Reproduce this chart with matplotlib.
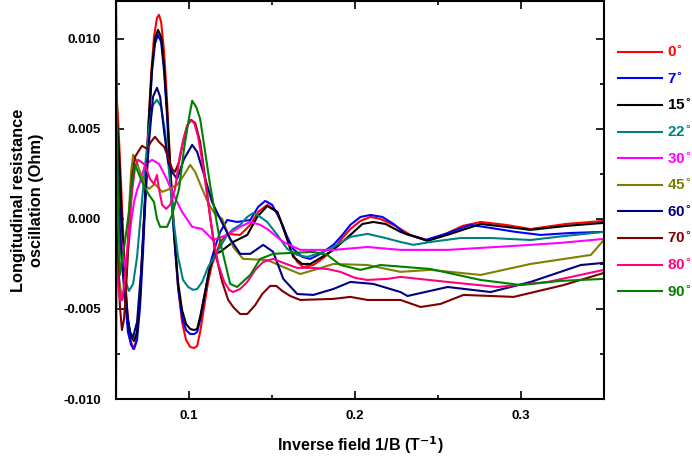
import matplotlib
matplotlib.use('Agg')
import matplotlib.pyplot as plt
import matplotlib.ticker as plticker
import numpy as np

plt.rcParams.update({'font.family': 'sans-serif',
                     'font.sans-serif': ['Liberation Sans', 'DejaVu Sans'],
                     'font.weight': 'bold',
                     'axes.linewidth': 1.5,
                     'xtick.labelsize': 9.5,
                     'ytick.labelsize': 9.5})

# -- data: inverse field (1/T) and oscillation (mOhm) per tilt angle
x_0 = [0.0560, 0.0572, 0.0590, 0.0608, 0.0626, 0.0644, 0.0663, 0.0681, 0.0699, 0.0717,
       0.0735, 0.0753, 0.0771, 0.0789, 0.0807, 0.0819, 0.0832, 0.0850, 0.0868, 0.0886,
       0.0910, 0.0934, 0.0958, 0.0982, 0.1007, 0.1031, 0.1049, 0.1067, 0.1091, 0.1115,
       0.1139, 0.1157, 0.1188, 0.1230, 0.1308, 0.1369, 0.1417, 0.1471, 0.1532, 0.1568,
       0.1610, 0.1652, 0.1688, 0.1749, 0.1809, 0.1870, 0.1924, 0.1972, 0.2033, 0.2093,
       0.2153, 0.2244, 0.2334, 0.2437, 0.2546, 0.2648, 0.2757, 0.2908, 0.3058, 0.3270, 0.3499]
y_0 = [7.33, 5.67, 2.06, -1.83, -4.89, -6.56, -7.22, -6.83, -5.17, -2.11,
       1.22, 4.83, 7.89, 10.11, 11.17, 11.33, 10.94, 9.28, 6.5, 3.17,
       -0.72, -3.78, -5.72, -6.72, -7.11, -7.17, -7.06, -6.28, -4.89, -3.5,
       -2.5, -2.11, -1.28, -0.83, -0.89, -0.33, 0.39, 0.78, 0.39, -0.44,
       -1.67, -2.39, -2.67, -2.56, -2.17, -1.67, -1.06, -0.56, -0.11, 0.11,
       0.0, -0.39, -0.89, -1.17, -0.83, -0.39, -0.17, -0.33, -0.56, -0.28, -0.11]

x_7 = [0.0560, 0.0578, 0.0596, 0.0614, 0.0632, 0.0651, 0.0669, 0.0687, 0.0705, 0.0723,
       0.0741, 0.0759, 0.0777, 0.0795, 0.0813, 0.0832, 0.0850, 0.0868, 0.0886, 0.0910,
       0.0934, 0.0958, 0.0982, 0.1007, 0.1031, 0.1049, 0.1067, 0.1097, 0.1127, 0.1157,
       0.1188, 0.1230, 0.1290, 0.1369, 0.1417, 0.1459, 0.1501, 0.1550, 0.1592, 0.1628,
       0.1682, 0.1731, 0.1791, 0.1870, 0.1924, 0.1972, 0.2033, 0.2093, 0.2165, 0.2232,
       0.2304, 0.2425, 0.2546, 0.2696, 0.2817, 0.2968, 0.3119, 0.3300, 0.3499]
y_7 = [5.94, 2.61, -1.28, -4.33, -6.28, -7.0, -7.22, -6.72, -4.89, -1.83,
       1.78, 5.39, 8.17, 9.72, 10.22, 9.83, 8.17, 5.67, 2.61, -1.0,
       -3.78, -5.44, -6.17, -6.39, -6.39, -6.28, -5.61, -4.06, -2.5, -1.56,
       -0.72, -0.06, -0.17, -0.06, 0.67, 1.0, 0.78, -0.06, -1.0, -1.67,
       -2.11, -2.22, -1.94, -1.44, -0.89, -0.33, 0.11, 0.22, 0.11, -0.28,
       -0.83, -1.17, -0.83, -0.33, -0.5, -0.72, -0.89, -0.78, -0.72]

x_15 = [0.0560, 0.0578, 0.0596, 0.0614, 0.0632, 0.0651, 0.0669, 0.0687, 0.0705, 0.0723,
        0.0741, 0.0759, 0.0777, 0.0795, 0.0813, 0.0832, 0.0850, 0.0868, 0.0886, 0.0910,
        0.0934, 0.0958, 0.0982, 0.1007, 0.1031, 0.1049, 0.1067, 0.1097, 0.1127, 0.1157,
        0.1188, 0.1266, 0.1351, 0.1411, 0.1471, 0.1532, 0.1580, 0.1628, 0.1682, 0.1731,
        0.1791, 0.1870, 0.1972, 0.2045, 0.2111, 0.2183, 0.2274, 0.2437, 0.2576, 0.2757,
        0.2908, 0.3058, 0.3270, 0.3499]
y_15 = [6.5, 3.72, -0.17, -3.5, -5.61, -6.56, -6.78, -6.28, -4.33, -1.28,
        2.33, 5.67, 8.44, 10.0, 10.5, 10.11, 8.44, 5.94, 2.89, -0.72,
        -3.5, -5.06, -5.83, -6.11, -6.17, -6.11, -5.44, -4.06, -2.67, -1.94,
        -1.83, -1.28, -0.89, 0.11, 0.72, 0.39, -0.83, -2.11, -2.5, -2.5,
        -2.17, -1.72, -0.89, -0.28, -0.17, -0.28, -0.72, -1.22, -0.83, -0.28,
        -0.44, -0.61, -0.39, -0.22]

x_22 = [0.0560, 0.0584, 0.0608, 0.0638, 0.0663, 0.0687, 0.0711, 0.0735, 0.0759, 0.0783,
        0.0807, 0.0832, 0.0856, 0.0880, 0.0904, 0.0934, 0.0964, 0.0995, 0.1025, 0.1049,
        0.1079, 0.1115, 0.1145, 0.1170, 0.1230, 0.1266, 0.1308, 0.1351, 0.1387, 0.1429,
        0.1471, 0.1532, 0.1592, 0.1652, 0.1713, 0.1791, 0.1870, 0.1972, 0.2075, 0.2183,
        0.2274, 0.2352, 0.2455, 0.2636, 0.2817, 0.3058, 0.3270, 0.3499]
y_22 = [0.94, -1.28, -3.22, -4.0, -3.61, -2.11, 0.39, 2.89, 5.11, 6.33,
        6.61, 6.22, 4.83, 2.61, 0.11, -2.11, -3.39, -3.78, -3.94, -3.89,
        -3.5, -2.67, -2.22, -1.83, -0.89, -0.56, -0.33, 0.11, 0.33, 0.11,
        -0.17, -0.89, -1.67, -2.0, -2.11, -1.89, -1.56, -1.0, -0.83, -1.06,
        -1.28, -1.44, -1.28, -1.06, -1.06, -1.17, -0.94, -0.72]

x_30 = [0.0560, 0.0566, 0.0578, 0.0596, 0.0614, 0.0632, 0.0651, 0.0669, 0.0687, 0.0705,
        0.0735, 0.0777, 0.0819, 0.0838, 0.0868, 0.0898, 0.0958, 0.1019, 0.1079, 0.1145,
        0.1230, 0.1308, 0.1369, 0.1429, 0.1471, 0.1568, 0.1670, 0.1870, 0.2075, 0.2274,
        0.2558, 0.2956, 0.3240, 0.3499]
y_30 = [-10.5, 0.22, -0.06, -1.56, -2.67, -1.83, -0.17, 0.94, 1.61, 2.06,
        3.0, 3.28, 3.06, 2.72, 2.17, 1.5, 0.39, -0.44, -0.56, -1.17,
        -0.89, -0.44, -0.17, -0.33, -0.56, -1.28, -1.72, -1.72, -1.56, -1.72,
        -1.72, -1.5, -1.33, -1.11]

x_45 = [0.0560, 0.0578, 0.0596, 0.0614, 0.0626, 0.0638, 0.0651, 0.0663, 0.0681, 0.0705,
        0.0735, 0.0759, 0.0795, 0.0838, 0.0886, 0.0928, 0.0970, 0.1007, 0.1037, 0.1079,
        0.1121, 0.1157, 0.1200, 0.1266, 0.1326, 0.1471, 0.1568, 0.1670, 0.1773, 0.1870,
        0.2075, 0.2274, 0.2455, 0.2757, 0.3058, 0.3421, 0.3499]
y_45 = [-0.72, -3.22, -4.5, -3.78, -2.94, 0.39, 2.61, 3.56, 3.28, 2.61,
        1.89, 1.67, 1.94, 1.5, 1.67, 1.89, 2.44, 3.0, 2.61, 1.67,
        0.78, 0.28, 0.0, -1.56, -2.22, -2.28, -2.67, -3.06, -2.78, -2.5,
        -2.56, -2.94, -2.83, -3.11, -2.5, -2.0, -1.17]

x_60 = [0.0560, 0.0584, 0.0614, 0.0644, 0.0663, 0.0687, 0.0711, 0.0735, 0.0759, 0.0783,
        0.0807, 0.0826, 0.0850, 0.0874, 0.0898, 0.0928, 0.0970, 0.1019, 0.1049, 0.1091,
        0.1139, 0.1188, 0.1248, 0.1308, 0.1369, 0.1447, 0.1507, 0.1568, 0.1652, 0.1749,
        0.1870, 0.1972, 0.2111, 0.2274, 0.2316, 0.2558, 0.2817, 0.3058, 0.3360, 0.3499]
y_60 = [3.72, -0.72, -4.61, -6.28, -6.56, -5.72, -2.94, 0.94, 4.28, 6.78,
        7.28, 6.78, 4.83, 3.17, 2.61, 2.22, 3.33, 4.11, 3.72, 2.44,
        0.94, 0.0, -1.11, -1.94, -1.94, -1.44, -1.83, -3.33, -4.17, -4.22,
        -3.89, -3.5, -3.61, -4.06, -4.28, -3.78, -4.06, -3.5, -2.56, -2.44]

x_70 = [0.0560, 0.0572, 0.0584, 0.0596, 0.0608, 0.0620, 0.0638, 0.0657, 0.0675, 0.0693,
        0.0717, 0.0747, 0.0771, 0.0795, 0.0819, 0.0850, 0.0874, 0.0898, 0.0916, 0.0940,
        0.0964, 0.0988, 0.1013, 0.1037, 0.1067, 0.1097, 0.1127, 0.1157, 0.1200, 0.1236,
        0.1266, 0.1308, 0.1351, 0.1399, 0.1441, 0.1489, 0.1526, 0.1562, 0.1610, 0.1670,
        0.1870, 0.1972, 0.2075, 0.2274, 0.2395, 0.2515, 0.2654, 0.2956, 0.3258, 0.3499]
y_70 = [0.11, -2.39, -4.89, -6.17, -5.61, -4.06, -0.72, 2.33, 3.44, 3.72,
        4.06, 3.89, 4.28, 4.56, 4.28, 4.0, 3.44, 2.78, 2.61, 3.17,
        4.28, 5.17, 5.5, 5.33, 4.28, 2.33, 0.11, -1.83, -3.5, -4.5,
        -4.89, -5.28, -5.28, -4.78, -4.17, -3.72, -3.72, -4.0, -4.28, -4.5,
        -4.44, -4.33, -4.5, -4.5, -4.89, -4.72, -4.22, -4.33, -3.67, -3.0]

x_80 = [0.0560, 0.0572, 0.0584, 0.0596, 0.0608, 0.0632, 0.0657, 0.0675, 0.0693, 0.0711,
        0.0735, 0.0765, 0.0789, 0.0807, 0.0819, 0.0838, 0.0862, 0.0886, 0.0916, 0.0946,
        0.0970, 0.0988, 0.1007, 0.1031, 0.1055, 0.1085, 0.1115, 0.1145, 0.1176, 0.1212,
        0.1242, 0.1266, 0.1308, 0.1351, 0.1399, 0.1447, 0.1507, 0.1568, 0.1652, 0.1749,
        0.1833, 0.1912, 0.2002, 0.2075, 0.2195, 0.2274, 0.2558, 0.2860, 0.3161, 0.3499]
y_80 = [-2.11, -3.5, -4.5, -4.5, -3.78, -1.28, 1.5, 2.89, 3.28, 3.17,
        3.0, 2.22, 1.94, 2.44, 1.67, 0.78, 0.56, 0.78, 1.67, 3.56,
        4.56, 5.11, 5.5, 5.33, 4.56, 2.89, 0.94, -1.0, -2.5, -3.5,
        -3.94, -4.06, -3.89, -3.5, -2.83, -2.39, -2.22, -2.44, -2.72, -2.72,
        -2.78, -2.94, -3.28, -3.39, -3.33, -3.22, -3.5, -3.78, -3.5, -2.83]

x_90 = [0.0560, 0.0566, 0.0572, 0.0584, 0.0614, 0.0638, 0.0651, 0.0675, 0.0717, 0.0759,
        0.0789, 0.0807, 0.0826, 0.0868, 0.0898, 0.0940, 0.0970, 0.1001, 0.1019, 0.1043,
        0.1067, 0.1127, 0.1188, 0.1248, 0.1290, 0.1369, 0.1429, 0.1507, 0.1610, 0.1749,
        0.1833, 0.1912, 0.2033, 0.2153, 0.2455, 0.2757, 0.2998, 0.3240, 0.3499]
y_90 = [12.6, 6.5, 0.94, -3.11, -1.28, 0.39, 1.67, 3.0, 2.06, 1.33,
        0.94, 0.0, -0.44, -0.44, 0.22, 1.67, 3.89, 5.67, 6.56, 6.22,
        5.56, 1.89, -1.28, -3.61, -3.78, -3.11, -2.22, -1.94, -1.89, -1.83,
        -2.0, -2.56, -2.83, -2.56, -2.78, -3.39, -3.67, -3.44, -3.33]

angles = ['0', '7', '15', '22', '30', '45', '60', '70', '80', '90']
colors = ['#FF0000', '#0000FF', '#000000', '#008080', '#FF00FF',
          '#808000', '#000080', '#800000', '#FF0080', '#008000']
series = [(x_0, y_0), (x_7, y_7), (x_15, y_15), (x_22, y_22), (x_30, y_30),
          (x_45, y_45), (x_60, y_60), (x_70, y_70), (x_80, y_80), (x_90, y_90)]

# -- plotting
fig = plt.figure(figsize=(6.92, 4.57), dpi=100)
ax = fig.add_axes([0.1676, 0.1269, 0.7052, 0.8709])

for (xs, ys), ang, c in zip(series, angles, colors):
    ax.plot(xs, np.array(ys) * 1e-3, color=c, linewidth=1.5,
            label=ang + r'$^{\circ}$')

ax.set_xlim(0.056, 0.35)
ax.set_ylim(-0.010, 0.0121)
ax.xaxis.set_major_locator(plticker.FixedLocator([0.1, 0.2, 0.3]))
ax.xaxis.set_minor_locator(plticker.MultipleLocator(0.05))
ax.yaxis.set_major_locator(plticker.MultipleLocator(0.005))
ax.yaxis.set_minor_locator(plticker.MultipleLocator(0.0025))
ax.xaxis.set_major_formatter(plticker.FormatStrFormatter('%.1f'))
ax.yaxis.set_major_formatter(plticker.FormatStrFormatter('%.3f'))
ax.tick_params(which='both', direction='in', top=True, right=True, width=1.2)
ax.tick_params(which='major', length=6)
ax.tick_params(which='minor', length=3)
ax.tick_params(axis='y', which='major', pad=11)
ax.tick_params(axis='x', which='major', pad=8)

ax.set_xlabel('Inverse field 1/B (T$^{\\mathbf{-1}}$)', fontsize=11.5, fontweight='bold', labelpad=9)
ax.set_ylabel('Longitudinal resistance\noscillation (Ohm)', fontsize=11.8, fontweight='bold', labelpad=14)

leg = fig.legend(loc='upper left', bbox_to_anchor=(0.893, 0.903), frameon=False,
                 fontsize=11, handlelength=2.9, handletextpad=0.3,
                 labelspacing=0.70, borderpad=0, borderaxespad=0,
                 labelcolor='linecolor')
for t in leg.get_texts():
    t.set_fontweight('bold')

plt.savefig('out.png', dpi=100)
